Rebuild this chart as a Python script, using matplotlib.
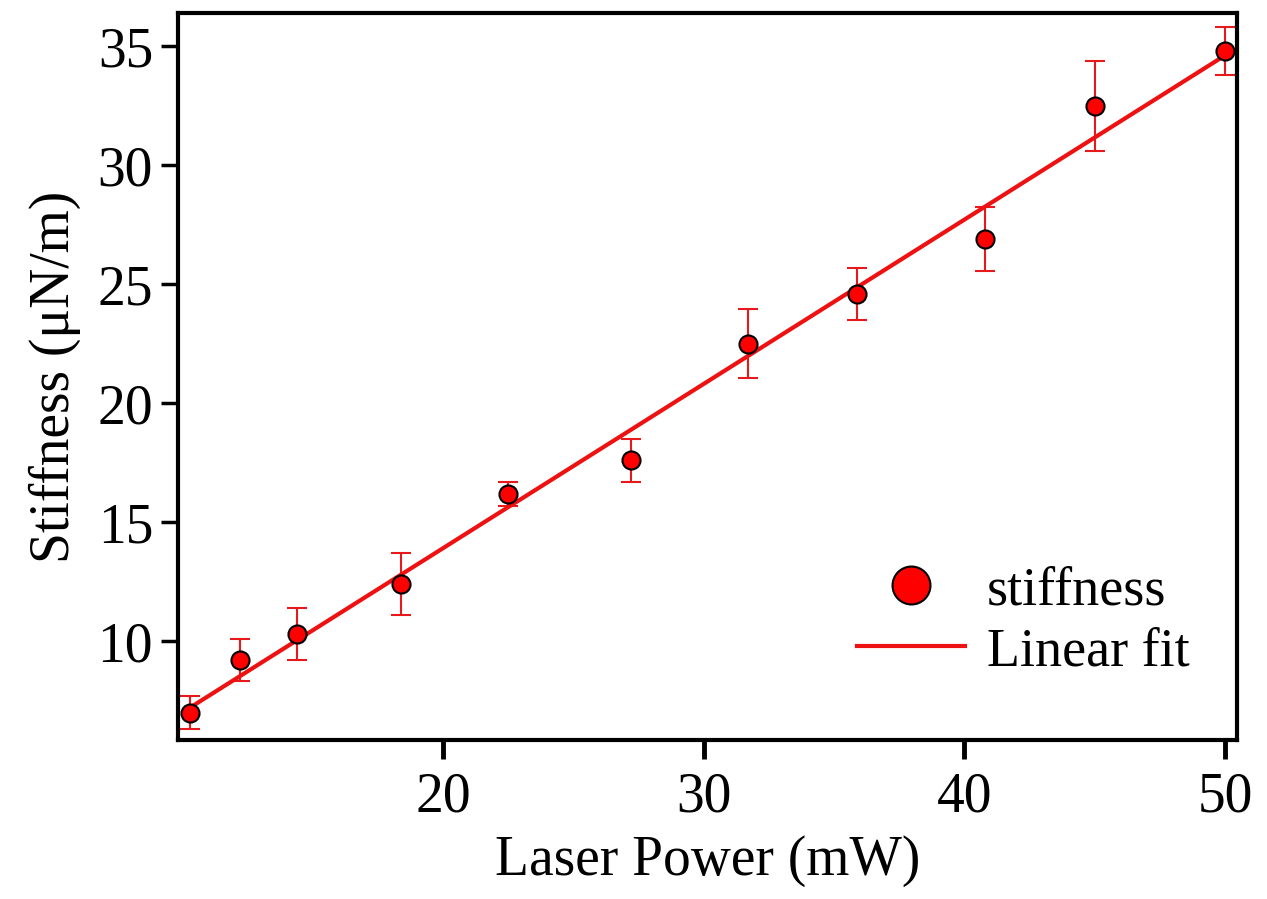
import numpy as np
import matplotlib.pyplot as plt

# Data
power = [10.3, 12.2, 14.4, 18.4, 22.5, 27.2, 31.7, 35.9, 40.8, 45.0, 50.0]
stiffness = [7.0, 9.2, 10.3, 12.4, 16.2, 17.6, 22.5, 24.6, 26.9, 32.5, 34.8]
err = [0.7, 0.88, 1.1, 1.3, 0.5, 0.9, 1.45, 1.1, 1.35, 1.9, 1.0]

plt.rcParams['font.family'] = ['Liberation Serif', 'DejaVu Serif']

fig = plt.figure(figsize=(12.67, 8.99), dpi=100)
ax = fig.add_axes([0.1405, 0.1769, 0.8358, 0.8086])

ax.errorbar(power, stiffness, yerr=err, fmt='none', ecolor='#e8191c',
            elinewidth=1.5, capsize=7, capthick=1.5, zorder=2)

# linear fit
coef = np.polyfit(power, stiffness, 1)
xf = np.array([power[0], power[-1]])
ax.plot(xf, np.polyval(coef, xf), color='#ee1111', lw=3, zorder=3,
        label='Linear fit')

ax.plot(power, stiffness, 'o', color='#ff0000', mec='black', mew=1.5,
        ms=13, zorder=4, label='stiffness')

ax.set_xlim(9.84, 50.46)
ax.set_ylim(5.85, 36.4)
ax.set_xticks([20, 30, 40, 50])
ax.set_yticks([10, 15, 20, 25, 30, 35])

for s in ax.spines.values():
    s.set_linewidth(3)
ax.tick_params(axis='x', direction='out', length=14, width=3.5,
               labelsize=40, pad=9)
ax.tick_params(axis='y', direction='out', length=12, width=2.5,
               labelsize=40, pad=6)

ax.set_xlabel('Laser Power (mW)', fontsize=40, labelpad=8)
ax.set_ylabel('Stiffness (μN/m)', fontsize=40, labelpad=12)

h, l = ax.get_legend_handles_labels()
ax.legend([h[1], h[0]], [l[1], l[0]], loc='center left', frameon=False,
          fontsize=39, markerscale=2.1, handlelength=2.0, handletextpad=0.4,
          borderpad=0, borderaxespad=0, labelspacing=0.2,
          bbox_to_anchor=(0.641, 0.163))

fig.savefig('out.png', dpi=100)
